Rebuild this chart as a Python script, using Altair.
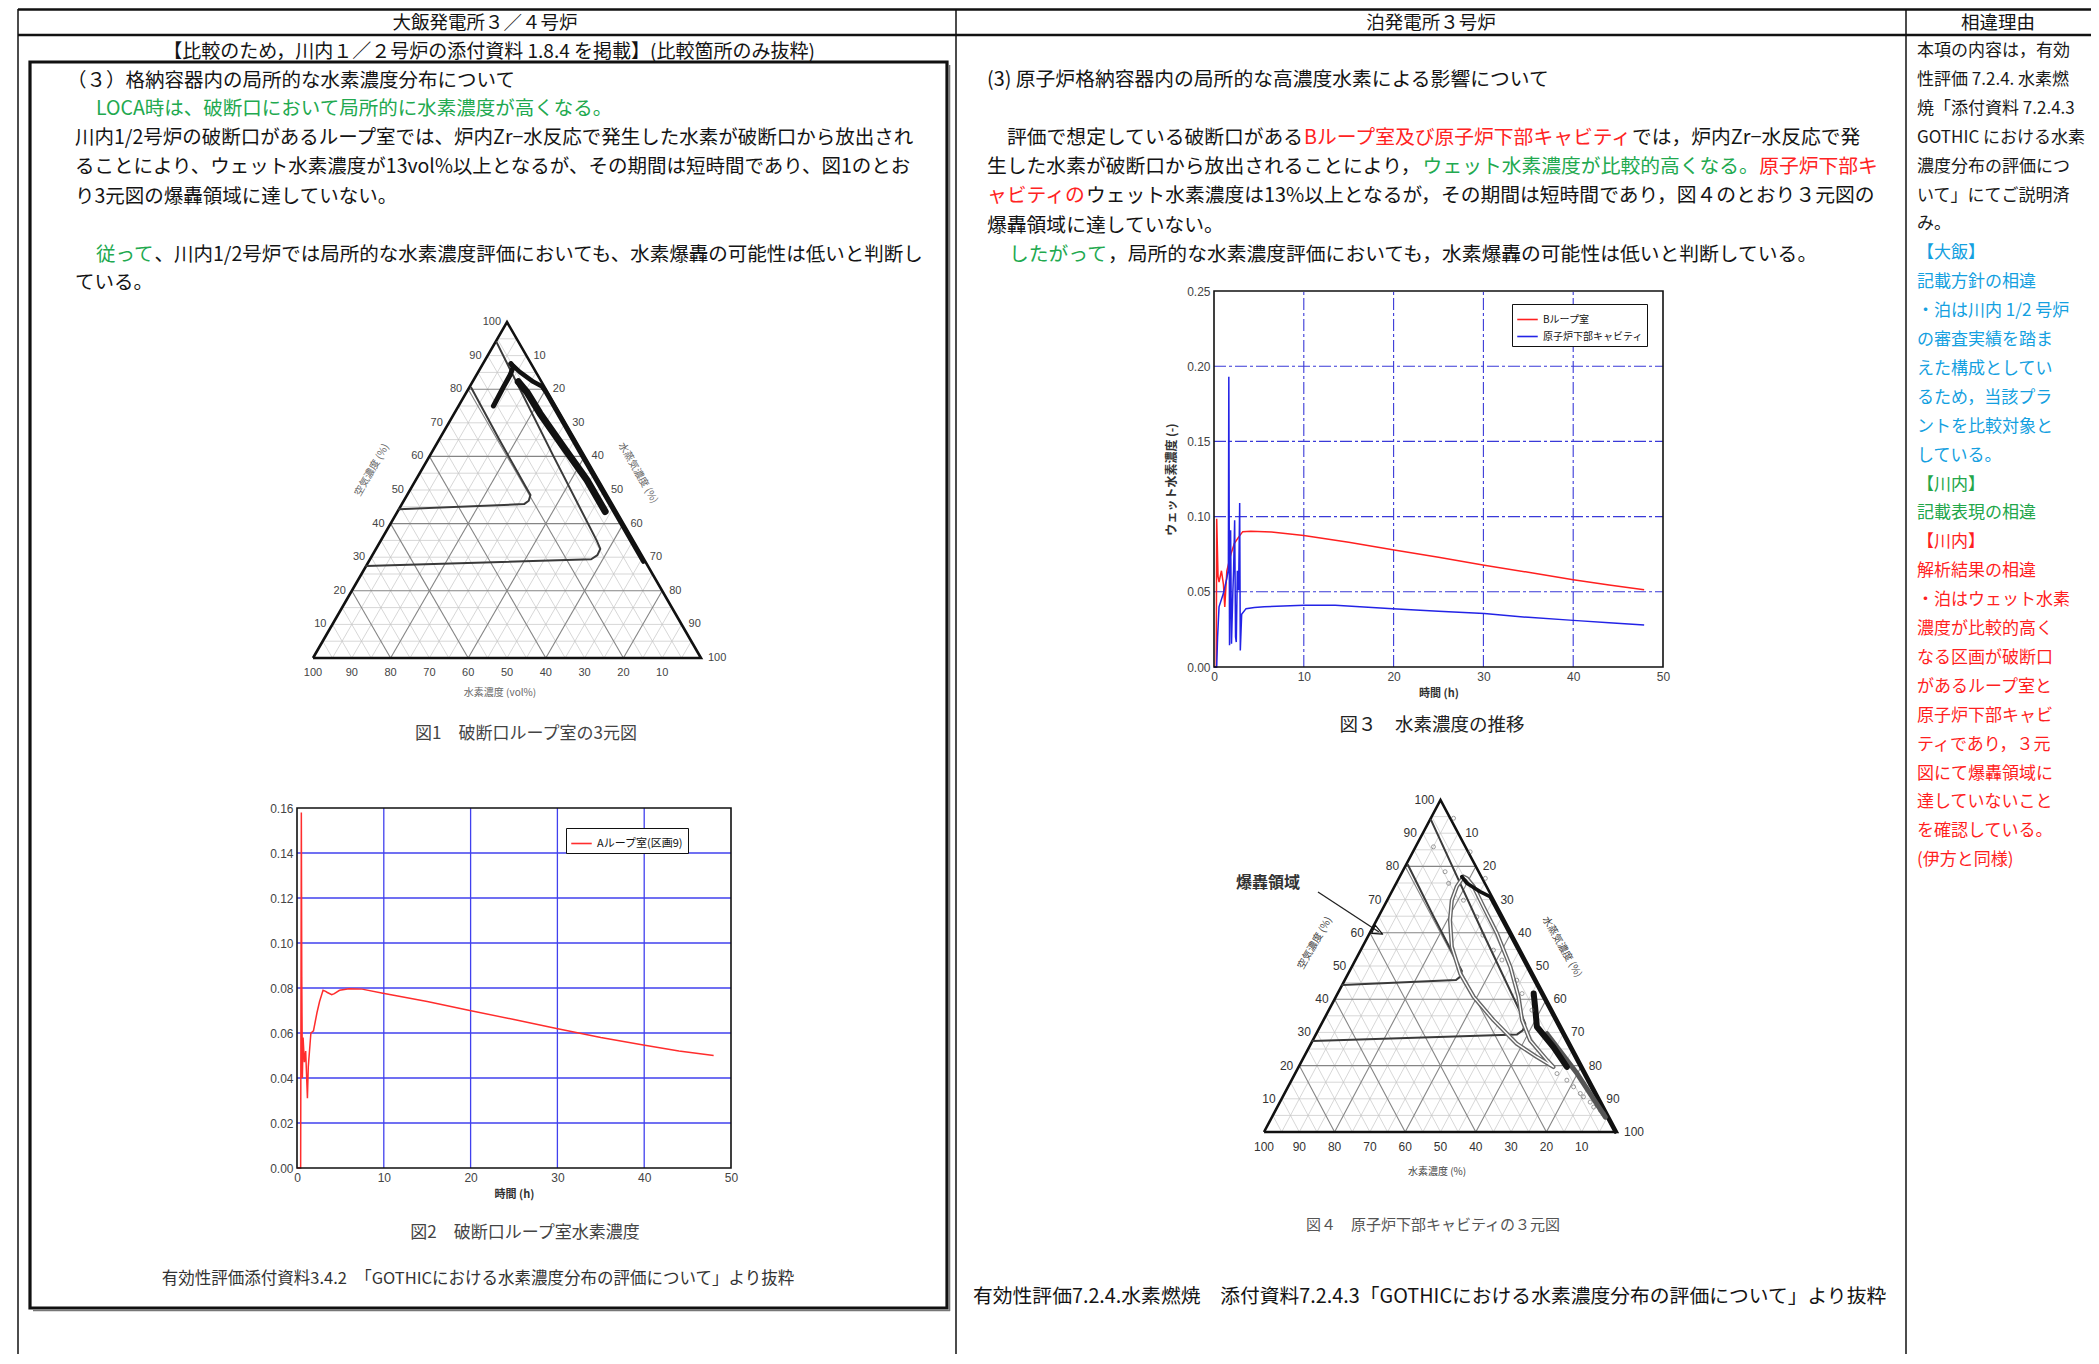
import math
import altair as alt
import pandas as pd

# ======================= values =======================
# Fig.2  破断口ループ室水素濃度
FIG2_NAMES = ["Aループ室(区画9)"]
FIG2_T = [0, 0.42, 0.5, 0.55, 0.62, 0.7, 0.85, 1.0, 1.2, 1.3, 1.5, 1.6, 1.9, 2.1, 2.3, 2.6,
          3.0, 3.3, 3.5, 4.0, 4.3, 4.9, 6.0, 7.5, 9.9, 15, 19.9, 25, 29.9, 35, 39.9, 44, 48]
FIG2_V = [0, 0.0, 0.158, 0.085, 0.040, 0.058, 0.047, 0.052, 0.031, 0.045, 0.055, 0.060, 0.061,
          0.065, 0.069, 0.074, 0.079, 0.0785, 0.078, 0.077, 0.0775, 0.079, 0.0797, 0.0795,
          0.0777, 0.074, 0.070, 0.066, 0.062, 0.058, 0.0547, 0.052, 0.050]
FIG2_XTICKS = [0, 10, 20, 30, 40, 50]
FIG2_YTICKS = [0.00, 0.02, 0.04, 0.06, 0.08, 0.10, 0.12, 0.14, 0.16]

# Fig.3  水素濃度の推移
FIG3_NAMES = ["Bループ室", "原子炉下部キャビティ"]
FIG3_B_T = [0, 0.25, 0.3, 0.45, 0.56, 0.83, 1.05, 1.2, 1.43, 1.88, 2.26, 2.7, 3.2, 4.1, 6.4,
            10, 15, 19.9, 25, 30.1, 35, 40, 44, 47.9]
FIG3_B_V = [0, 0.0, 0.0986, 0.06, 0.0565, 0.064, 0.055, 0.04, 0.064, 0.075, 0.082, 0.086,
            0.090, 0.0902, 0.0898, 0.0875, 0.083, 0.078, 0.073, 0.0676, 0.063, 0.058, 0.0545, 0.0514]
FIG3_C_T = [0, 0.3, 0.4, 0.56, 1.05, 1.43, 1.6, 1.65, 1.73, 1.85, 1.95, 2.1, 2.18, 2.3, 2.4,
            2.48, 2.6, 2.74, 2.86, 2.93, 3.08, 3.57, 4.5, 5.6, 10, 13.5, 19.9, 25, 30.1, 35, 40, 44, 47.9]
FIG3_C_V = [0, 0.0, 0.02, 0.04, 0.049, 0.059, 0.065, 0.193, 0.0144, 0.091, 0.0155, 0.05, 0.064,
            0.0975, 0.02, 0.0166, 0.064, 0.051, 0.109, 0.011, 0.035, 0.0388, 0.0395, 0.040, 0.041,
            0.041, 0.0388, 0.037, 0.0355, 0.033, 0.031, 0.0295, 0.028]
FIG3_XTICKS = [0, 10, 20, 30, 40, 50]
FIG3_YTICKS = [0.00, 0.05, 0.10, 0.15, 0.20, 0.25]

# ternary diagrams: (air %, steam %) ; hydrogen = 100 - air - steam
DET_A = [44.3, 45.8, 46.8, 48.5, 50.0, 65.0, 80.5]
DET_S = [0.0, 31.5, 32.2, 31.8, 30.3, 15.5, 0.5]
FLAM_A = [27.4, 29.4, 30.6, 32.5, 35.0, 60.0, 94.0]
FLAM_S = [0.0, 57.0, 58.0, 57.8, 55.6, 32.0, 0.3]
TRI_A = [0, 0, 100, 0]
TRI_S = [0, 100, 0, 0]

F1_HOOK_A = [87.6, 86.6, 84.2, 80.7, 77.7, 75.0]
F1_HOOK_S = [7.2, 8.3, 8.7, 8.75, 8.9, 9.0]
F1_EDGE_A = [87.6, 85.1, 82.2, 80.9, 79.2, 60.0, 40.0, 28.7]
F1_EDGE_S = [7.2, 10.8, 15.7, 18.5, 20.4, 39.5, 59.5, 70.8]
F1_BAND_A = [82.2, 79.2, 72.8, 62.9, 53.0, 43.6]
F1_BAND_S = [11.8, 15.5, 22.1, 33.05, 44.1, 53.5]

F4_LOOP_A = [76.9, 73.9, 69.8, 63.8, 55.8, 47.7, 40.7, 33.7, 26.6, 22.6, 19.6, 21.6, 27.6,
             33.7, 40.7, 49.7, 59.8, 67.8, 73.9, 76.4, 76.9]
F4_LOOP_S = [18.05, 17.65, 18.3, 20.8, 25.3, 31.75, 39.05, 48.15, 58.3, 66.0, 72.2, 69.4, 61.6,
             56.25, 51.75, 44.95, 36.1, 28.3, 22.45, 19.3, 18.05]
F4_TOP_A = [76.9, 74.9, 72.4, 70.9, 50.0, 30.0, 10.0, 0.0]
F4_TOP_S = [17.6, 20.05, 25.0, 28.6, 49.5, 69.5, 89.5, 99.5]
F4_BAND_A = [41.7, 37.7, 31.7, 25.6, 19.6]
F4_BAND_S = [55.55, 57.95, 61.45, 69.2, 76.0]
F4_TAIL_A = [29.6, 17.6, 4.5]
F4_TAIL_S = [65.35, 79.9, 94.45]
F4_PTS_A = [85.9, 78.4, 74.9, 69.8, 64.8, 59.3, 54.8, 51.8, 45.7, 41.7, 36.7, 94.5, 84.4, 76.4,
            17.6, 13.6, 10.6, 7.5, 5.5, 15.6, 11.6, 9.0, 6.5]
F4_PTS_S = [5.05, 12.1, 14.85, 21.6, 27.9, 32.35, 37.6, 41.5, 48.75, 52.25, 57.55, 6.45, 16.2,
            24.5, 74.2, 80.9, 85.2, 89.65, 93.45, 78.0, 83.8, 87.9, 92.05]
F4_MINI_A = [62.3, 59.8, 59.6, 62.3]
F4_MINI_S = [0.35, 0.6, 3.8, 0.35]

TERN_TICKS = [10, 20, 30, 40, 50, 60, 70, 80, 90, 100]
TERN_MINOR = [k for k in range(5, 100, 5) if k % 20]
TERN_MAJOR = [20, 40, 60, 80]

# ======================= texts =======================
L_HEAD = "大飯発電所３／４号炉"
M_HEAD = "泊発電所３号炉"
R_HEAD = "相違理由"
L_SUB = "【比較のため，川内１／２号炉の添付資料 1.8.4 を掲載】(比較箇所のみ抜粋)"
L_TITLE = "（３）格納容器内の局所的な水素濃度分布について"
L_GREEN = "LOCA時は、破断口において局所的に水素濃度が高くなる。"
L_PARA = ["川内1/2号炉の破断口があるループ室では、炉内Zr−水反応で発生した水素が破断口から放出され",
          "ることにより、ウェット水素濃度が13vol%以上となるが、その期間は短時間であり、図1のとお",
          "り3元図の爆轟領域に達していない。"]
L_CONC_G = "従って"
L_CONC_K = "、川内1/2号炉では局所的な水素濃度評価においても、水素爆轟の可能性は低いと判断し"
L_CONC_2 = "ている。"
L_CAP1 = "図1　破断口ループ室の3元図"
L_CAP2 = "図2　破断口ループ室水素濃度"
L_FOOT = "有効性評価添付資料3.4.2　「GOTHICにおける水素濃度分布の評価について」より抜粋"

M_TITLE = "(3) 原子炉格納容器内の局所的な高濃度水素による影響について"
K, RD, GR = "#141414", "#ff2323", "#22a94f"
M_LINES = [
    [("評価で想定している破断口がある", K), ("Bループ室及び原子炉下部キャビティ", RD), ("では，炉内Zr−水反応で発", K)],
    [("生した水素が破断口から放出されることにより，", K), ("ウェット水素濃度が比較的高くなる。", GR), ("原子炉下部キ", RD)],
    [("ャビティの", RD), ("ウェット水素濃度は13%以上となるが，その期間は短時間であり，図４のとおり３元図の", K)],
    [("爆轟領域に達していない。", K)],
    [("したがって", GR), ("，局所的な水素濃度評価においても，水素爆轟の可能性は低いと判断している。", K)],
]
M_CAP3 = "図３　水素濃度の推移"
M_CAP4 = "図４　原子炉下部キャビティの３元図"
M_FOOT = "有効性評価7.2.4.水素燃焼　添付資料7.2.4.3「GOTHICにおける水素濃度分布の評価について」より抜粋"
M_DET = "爆轟領域"

R_BLACK = ["本項の内容は，有効", "性評価 7.2.4. 水素燃", "焼「添付資料 7.2.4.3", "GOTHIC における水素",
           "濃度分布の評価につ", "いて」にてご説明済", "み。"]
R_CYAN = ["【大飯】", "記載方針の相違", "・泊は川内 1/2 号炉", "　の審査実績を踏ま", "　えた構成としてい",
          "　るため，当該プラ", "　ントを比較対象と", "　している。"]
R_GREEN = ["【川内】", "記載表現の相違"]
R_RED = ["【川内】", "解析結果の相違", "・泊はウェット水素", "　濃度が比較的高く", "　なる区画が破断口",
         "　があるループ室と", "　原子炉下部キャビ", "　ティであり，３元", "　図にて爆轟領域に",
         "　達していないこと", "　を確認している。", "(伊方と同様)"]

# ======================= helpers =======================
FONT = "Noto Sans CJK JP"
NUMFONT = "Liberation Sans"
W, H = 2083, 1346
OFF = 8
R3 = math.sqrt(3) / 2


def px(v):
    return v - OFF


def tw(s, size):
    w = 0.0
    for c in s:
        o = ord(c)
        w += size * (0.56 if (o < 0x2000 or 0xFF61 <= o <= 0xFF9F) else 1.0)
    return w


def text(s, x, y, size=19.5, color=K, align="left", weight="normal", angle=0, font=FONT):
    kw = dict(text=s, align=align, baseline="middle", fontSize=size, color=color,
              font=font, fontWeight=weight)
    if angle:
        kw["angle"] = angle
    return alt.Chart().mark_text(**kw).encode(x=alt.value(px(x)), y=alt.value(px(y)))


def seg_line(segs, x, y, size):
    out, cx = [], x
    for s, col in segs:
        out.append(text(s, cx, y, size, col))
        cx += tw(s, size)
    return out


def hrule(x1, x2, y, w, color="#111"):
    return alt.Chart().mark_rule(strokeWidth=w, color=color).encode(
        x=alt.value(px(x1)), x2=alt.value(px(x2)), y=alt.value(px(y)))


def vrule(x, y1, y2, w, color="#111"):
    return alt.Chart().mark_rule(strokeWidth=w, color=color).encode(
        x=alt.value(px(x)), y=alt.value(px(y1)), y2=alt.value(px(y2)))


def line_panel(box, xdom, ydom, xticks, yticks, df, names, colors, legend_at, legend_size,
               grid_color, grid_dash, grid_width, ytitle, yfmt):
    x0, y0, x1, y1 = box
    xs = alt.Scale(domain=xdom, range=[px(x0), px(x1)], nice=False, zero=False)
    ys = alt.Scale(domain=ydom, range=[px(y1), px(y0)], nice=False, zero=False)
    xax = alt.Axis(orient="bottom", offset=px(y1) - H, values=xticks, format="d", grid=False,
                   domain=False, ticks=False, labelFlush=False, labelOverlap=False,
                   labelFont=NUMFONT, labelFontSize=12, labelColor="#444", labelPadding=4,
                   title="時間 (h)", titleFont=FONT, titleFontSize=11, titleFontWeight="bold",
                   titleColor="#333", titlePadding=5)
    yax = alt.Axis(orient="left", offset=-px(x0), values=yticks, format=yfmt, grid=False,
                   domain=False, ticks=False, labelFlush=False, labelOverlap=False,
                   labelFont=NUMFONT, labelFontSize=12, labelColor="#444", labelPadding=4,
                   title=ytitle, titleFont=FONT, titleFontSize=12, titleFontWeight="bold",
                   titleColor="#333", titlePadding=8)

    def X(f):
        return alt.X(f, type="quantitative", scale=xs, axis=xax)

    def Y(f):
        return alt.Y(f, type="quantitative", scale=ys, axis=yax)

    gx = pd.DataFrame({"x": [t for t in xticks if xdom[0] < t < xdom[1]]})
    gx["y"], gx["y2"] = ydom[0], ydom[1]
    gy = pd.DataFrame({"y": [v for v in yticks if ydom[0] < v < ydom[1]]})
    gy["x"], gy["x2"] = xdom[0], xdom[1]
    rk = dict(color=grid_color, strokeWidth=grid_width)
    if grid_dash:
        rk["strokeDash"] = grid_dash
    vgrid = alt.Chart(gx).mark_rule(**rk).encode(x=X("x"), y=Y("y"), y2="y2")
    hgrid = alt.Chart(gy).mark_rule(**rk).encode(y=Y("y"), x=X("x"), x2="x2")
    frame = alt.Chart(pd.DataFrame({"x": [xdom[0]], "x2": [xdom[1]], "y": [ydom[0]], "y2": [ydom[1]]})
                      ).mark_rect(fillOpacity=0, stroke="#111", strokeWidth=1.6).encode(
        x=X("x"), x2="x2", y=Y("y"), y2="y2")
    lines = alt.Chart(df).mark_line(strokeWidth=1.5).encode(
        x=X("t"), y=Y("v"), order="i:Q",
        color=alt.Color("series:N", scale=alt.Scale(domain=names, range=colors),
                        legend=alt.Legend(orient="none", legendX=px(legend_at[0]),
                                          legendY=px(legend_at[1]), title=None,
                                          strokeColor="#111", fillColor="white", padding=4,
                                          labelFont=FONT, labelFontSize=legend_size,
                                          labelColor="#111", symbolType="stroke",
                                          symbolSize=420, symbolStrokeWidth=1.6,
                                          rowPadding=0, labelLimit=400)))
    return alt.layer(vgrid, hgrid, lines, frame)


def series_df(pairs):
    rows = []
    for name, T, V in pairs:
        for i, (t, v) in enumerate(zip(T, V)):
            rows.append({"series": name, "i": i, "t": t, "v": v})
    return pd.DataFrame(rows)


def path_df(A, S):
    return pd.DataFrame({"i": list(range(len(A))),
                         "x": [s + a / 2 for a, s in zip(A, S)],
                         "y": [a * R3 for a in A]})


def grid_df(ks):
    rows = []
    for k in ks:
        rows.append(dict(x=k / 2, y=k * R3, x2=100 - k / 2, y2=k * R3))
        rows.append(dict(x=k, y=0, x2=k + (100 - k) / 2, y2=(100 - k) * R3))
        rows.append(dict(x=100 - k, y=0, x2=(100 - k) / 2, y2=(100 - k) * R3))
    return pd.DataFrame(rows)


def ternary_panel(box, paths, pts, lab_size, lab_color):
    x0, y0, x1, y1 = box
    xs = alt.Scale(domain=[0, 100], range=[px(x0), px(x1)], nice=False, zero=False)
    ys = alt.Scale(domain=[0, 100 * R3], range=[px(y1), px(y0)], nice=False, zero=False)

    def X(f):
        return alt.X(f, type="quantitative", scale=xs, axis=None)

    def Y(f):
        return alt.Y(f, type="quantitative", scale=ys, axis=None)

    L = [
        alt.Chart(grid_df(TERN_MINOR)).mark_rule(color="#c6c6c6", strokeWidth=0.7).encode(
            x=X("x"), y=Y("y"), x2="x2", y2="y2"),
        alt.Chart(grid_df(TERN_MAJOR)).mark_rule(color="#858585", strokeWidth=1.1).encode(
            x=X("x"), y=Y("y"), x2="x2", y2="y2"),
        alt.Chart(path_df(TRI_A, TRI_S)).mark_line(color="#111", strokeWidth=2.6).encode(
            x=X("x"), y=Y("y"), order="i:Q"),
    ]
    for A, S, col, w in paths:
        L.append(alt.Chart(path_df(A, S)).mark_line(color=col, strokeWidth=w, strokeJoin="round",
                                                    strokeCap="round").encode(
            x=X("x"), y=Y("y"), order="i:Q"))
    if pts is not None:
        A, S = pts
        L.append(alt.Chart(path_df(A, S)).mark_point(shape="circle", filled=False, size=16,
                                                     strokeWidth=0.8, color="#555").encode(
            x=X("x"), y=Y("y")))
    left = pd.DataFrame({"x": [k / 2 for k in TERN_TICKS], "y": [k * R3 for k in TERN_TICKS],
                         "label": [str(k) for k in TERN_TICKS]})
    right = pd.DataFrame({"x": [s + (100 - s) / 2 for s in TERN_TICKS],
                          "y": [(100 - s) * R3 for s in TERN_TICKS],
                          "label": [str(s) for s in TERN_TICKS]})
    bottom = pd.DataFrame({"x": [100 - h for h in TERN_TICKS], "y": [0] * len(TERN_TICKS),
                           "label": [str(h) for h in TERN_TICKS]})
    tk = dict(font=NUMFONT, fontSize=lab_size, color=lab_color, baseline="middle")
    L.append(alt.Chart(left).mark_text(align="right", dx=-6, **tk).encode(
        x=X("x"), y=Y("y"), text="label:N"))
    L.append(alt.Chart(right).mark_text(align="left", dx=7, **tk).encode(
        x=X("x"), y=Y("y"), text="label:N"))
    L.append(alt.Chart(bottom).mark_text(align="center", dy=15, **tk).encode(
        x=X("x"), y=Y("y"), text="label:N"))
    return alt.layer(*L)


# ======================= page =======================
layers = []
# table frame
layers += [hrule(18, 2093, 9.5, 2.6), hrule(18, 2093, 35, 2.6),
           vrule(18, 9, 1364, 1.5), vrule(2093, 9, 1364, 2.2),
           vrule(956, 9, 1364, 1.5), vrule(1906, 9, 1364, 1.5)]
layers.append(alt.Chart().mark_rect(fillOpacity=0, stroke="#111", strokeWidth=3.2).encode(
    x=alt.value(px(30)), x2=alt.value(px(947)), y=alt.value(px(62)), y2=alt.value(px(1308))))
layers += [vrule(949.5, 65, 1311, 1.6, "#777"), hrule(33, 950, 1310.5, 1.6, "#777")]

# headers
layers.append(text(L_HEAD, 485, 23, 18.5, K, "center"))
layers.append(text(M_HEAD, 1431, 23, 18.5, K, "center"))
layers.append(text(R_HEAD, 1998, 23, 18.5, K, "center"))
layers.append(text(L_SUB, 489, 52, 19, K, "center"))

# left column body
BS = 19.5
layers.append(text(L_TITLE, 67, 81, BS))
layers.append(text(L_GREEN, 96, 109, BS, GR))
for j, ln in enumerate(L_PARA):
    layers.append(text(ln, 75, 138 + j * 29.3, BS))
layers += seg_line([(L_CONC_G, GR), (L_CONC_K, K)], 96, 255, BS)
layers.append(text(L_CONC_2, 75, 283, BS))
layers.append(text(L_CAP1, 526, 734, 17, "#444", "center"))
layers.append(text(L_CAP2, 525, 1233, 17, "#444", "center"))
layers.append(text(L_FOOT, 478, 1279, 16.5, "#333", "center"))

# middle column body
MS = 19.8
layers.append(text(M_TITLE, 987, 80, MS))
M_X = [1007, 987, 987, 987, 1009]
M_Y = [138, 167, 196, 226, 255]
for segs, x, y in zip(M_LINES, M_X, M_Y):
    layers += seg_line(segs, x, y, MS)
layers.append(text(M_CAP3, 1432, 725, 18.5, "#222", "center"))
layers.append(text(M_CAP4, 1433, 1225, 15, "#555", "center"))
layers.append(text(M_FOOT, 973, 1297, 19.8))
layers.append(text(M_DET, 1268, 883, 16, "#333", "center", "bold"))
layers.append(alt.Chart().mark_rule(strokeWidth=1.3, color="#222").encode(
    x=alt.value(px(1318)), y=alt.value(px(892)), x2=alt.value(px(1379)), y2=alt.value(px(932))))

# right column
ri = 0
for lines, col in [(R_BLACK, "#1a1a1a"), (R_CYAN, "#14a0e0"), (R_GREEN, "#22a64a"), (R_RED, "#ff1f1f")]:
    for ln in lines:
        layers.append(text(ln, 1917, 51 + ri * 28.9, 17, col))
        ri += 1

# ternary axis titles
layers.append(text("空気濃度 (%)", 372, 470, 10, "#666", "center", angle=300))
layers.append(text("水蒸気濃度 (%)", 638, 473, 10, "#666", "center", angle=60))
layers.append(text("水素濃度 (vol%)", 500, 693, 10, "#666", "center"))
layers.append(text("空気濃度 (%)", 1315, 943, 10, "#444", "center", angle=300))
layers.append(text("水蒸気濃度 (%)", 1562, 947, 10, "#444", "center", angle=60))
layers.append(text("水素濃度 (%)", 1437, 1172, 10, "#444", "center"))

# ---- Fig.1 ternary ----
fig1 = ternary_panel((313, 322, 701, 658), [
    (DET_A, DET_S, "#3a3a3a", 2.0),
    (FLAM_A, FLAM_S, "#3a3a3a", 2.0),
    (F1_EDGE_A, F1_EDGE_S, "#111", 4.5),
    (F1_HOOK_A, F1_HOOK_S, "#111", 5.0),
    (F1_BAND_A, F1_BAND_S, "#111", 7.0),
], None, 11, "#444")

# ---- Fig.4 ternary ----
fig4 = ternary_panel((1264, 800, 1617, 1132), [
    (DET_A, DET_S, "#3a3a3a", 2.0),
    (FLAM_A, FLAM_S, "#3a3a3a", 2.0),
    (F4_LOOP_A, F4_LOOP_S, "#666", 4.2),
    (F4_LOOP_A, F4_LOOP_S, "#fff", 1.4),
    (F4_TOP_A, F4_TOP_S, "#111", 3.6),
    (F4_TAIL_A, F4_TAIL_S, "#555", 5.0),
    (F4_BAND_A, F4_BAND_S, "#111", 6.0),
    (F4_MINI_A, F4_MINI_S, "#111", 1.2),
], (F4_PTS_A, F4_PTS_S), 12, "#333")

# ---- Fig.2 line chart ----
fig2 = line_panel((297, 808, 731, 1168), [0, 50], [0, 0.16], FIG2_XTICKS, FIG2_YTICKS,
                  series_df([(FIG2_NAMES[0], FIG2_T, FIG2_V)]), FIG2_NAMES, ["#ff2d2d"],
                  (566, 828), 11, "#4040ee", None, 1.3, "", ".2f")

# ---- Fig.3 line chart ----
fig3 = line_panel((1214, 291, 1663, 667), [0, 50], [0, 0.25], FIG3_XTICKS, FIG3_YTICKS,
                  series_df([(FIG3_NAMES[0], FIG3_B_T, FIG3_B_V), (FIG3_NAMES[1], FIG3_C_T, FIG3_C_V)]),
                  FIG3_NAMES, ["#ff2020", "#2323e6"], (1512, 304), 10, "#3a3ad8", [12, 3, 3, 3], 1.1,
                  "ウェット水素濃度 (-)", ".2f")

layers += [fig1, fig4, fig2, fig3]

chart = alt.layer(*layers).resolve_scale(
    x="independent", y="independent", color="independent"
).resolve_axis(x="independent", y="independent").resolve_legend(color="independent").properties(
    width=W, height=H, padding=0, autosize=alt.AutoSizeParams(type="none"), background="white"
).configure_view(stroke=None)

chart.save("out.html", embed_options={"renderer": "svg", "actions": False})
